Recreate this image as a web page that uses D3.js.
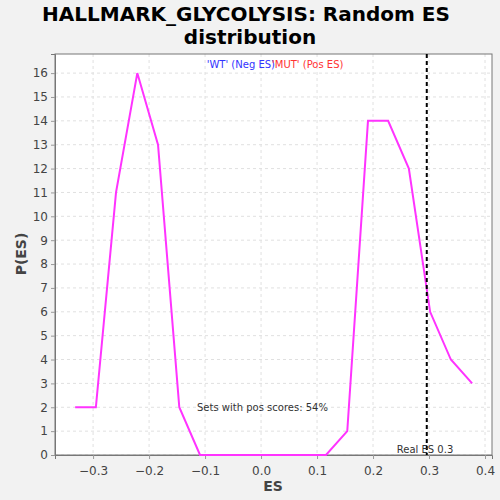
<!DOCTYPE html>
<html><head><meta charset="utf-8">
<script src="https://cdn.jsdelivr.net/npm/d3@7"></script>
<style>body{margin:0;background:#f2f2f2;}svg{display:block;font-family:"DejaVu Sans",sans-serif;}</style>
</head><body>
<svg id="c" width="500" height="500"></svg>
<script>
const esValues = [-0.332,-0.295,-0.259,-0.221,-0.184,-0.146,-0.109,-0.072,-0.034,0.003,0.041,0.078,0.116,0.154,0.191,0.227,0.264,0.302,0.339,0.377];
const pValues  = [2,2,11,16,13,2,0,0,0,0,0,0,0,1,14,14,12,6,4,3];
const xTicks = [-0.3,-0.2,-0.1,0.0,0.1,0.2,0.3,0.4];
const yTicks = d3.range(0,17);
const realES = 0.296;

const svg = d3.select("#c");
const L=55,R=492,T=54,B=455;
const x = d3.scaleLinear().domain([-0.368,0.4125]).range([L,R]);
const y = d3.scaleLinear().domain([0,16.8]).range([B,T]);

svg.append("rect").attr("x",L).attr("y",T).attr("width",R-L).attr("height",B-T).attr("fill","#fff");
// grid
svg.append("g").selectAll("line").data(xTicks).join("line")
  .attr("x1",d=>x(d)).attr("x2",d=>x(d)).attr("y1",T).attr("y2",B)
  .attr("stroke","#e0e0e0").attr("stroke-dasharray","3,3");
svg.append("g").selectAll("line").data(yTicks).join("line")
  .attr("y1",d=>y(d)).attr("y2",d=>y(d)).attr("x1",L).attr("x2",R)
  .attr("stroke","#e0e0e0").attr("stroke-dasharray","3,3");

svg.append("rect").attr("x",L).attr("y",T).attr("width",R-L).attr("height",B-T).attr("fill","none").attr("stroke","#777");

const xa = svg.append("g").attr("transform",`translate(0,${B})`)
  .call(d3.axisBottom(x).tickValues(xTicks).tickFormat(d3.format(".1f")).tickSizeOuter(0).tickSize(4));
const ya = svg.append("g").attr("transform",`translate(${L},0)`)
  .call(d3.axisLeft(y).tickValues(yTicks).tickFormat(d3.format("d")).tickSizeOuter(0).tickSize(4));
[xa,ya].forEach(a=>{a.select(".domain").attr("stroke","#777");a.selectAll(".tick line").attr("stroke","#999");
  a.selectAll("text").attr("fill","#444").style("font-size","12px").style("font-family","DejaVu Sans");});
xa.selectAll("text").attr("dy","1.1em");

// line
svg.append("path").datum(esValues.map((e,i)=>[e,pValues[i]]))
  .attr("fill","none").attr("stroke","#ff33ff").attr("stroke-width",2)
  .attr("d",d3.line().x(d=>x(d[0])).y(d=>y(d[1])));

// real ES
svg.append("line").attr("x1",x(realES)).attr("x2",x(realES)).attr("y1",T).attr("y2",B)
  .attr("stroke","#000").attr("stroke-width",2).attr("stroke-dasharray","4,3");

svg.append("text").attr("x",x(realES)-30).attr("y",B-2).attr("font-size",10).attr("fill","#333").text("Real ES 0.3");
svg.append("text").attr("x",197).attr("y",411).attr("font-size",10).attr("fill","#333").text("Sets with pos scores: 54%");

svg.append("text").attr("x",275).attr("y",68).attr("text-anchor","end").attr("font-size",10).attr("fill","#3333ff").text("'WT' (Neg ES)");
svg.append("text").attr("x",272).attr("y",68).attr("font-size",10).attr("fill","#ff3333").text("'MUT' (Pos ES)");

svg.append("text").attr("x",246).attr("y",21).attr("text-anchor","middle").attr("font-size",20).attr("font-weight","bold").text("HALLMARK_GLYCOLYSIS: Random ES");
svg.append("text").attr("x",250).attr("y",44).attr("text-anchor","middle").attr("font-size",20).attr("font-weight","bold").text("distribution");

svg.append("text").attr("x",273).attr("y",491).attr("text-anchor","middle").attr("font-size",14).attr("font-weight","bold").attr("fill","#444").text("ES");
svg.append("text").attr("transform","translate(26,254) rotate(-90)").attr("text-anchor","middle").attr("font-size",14).attr("font-weight","bold").attr("fill","#444").text("P(ES)");
</script>
</body></html>
